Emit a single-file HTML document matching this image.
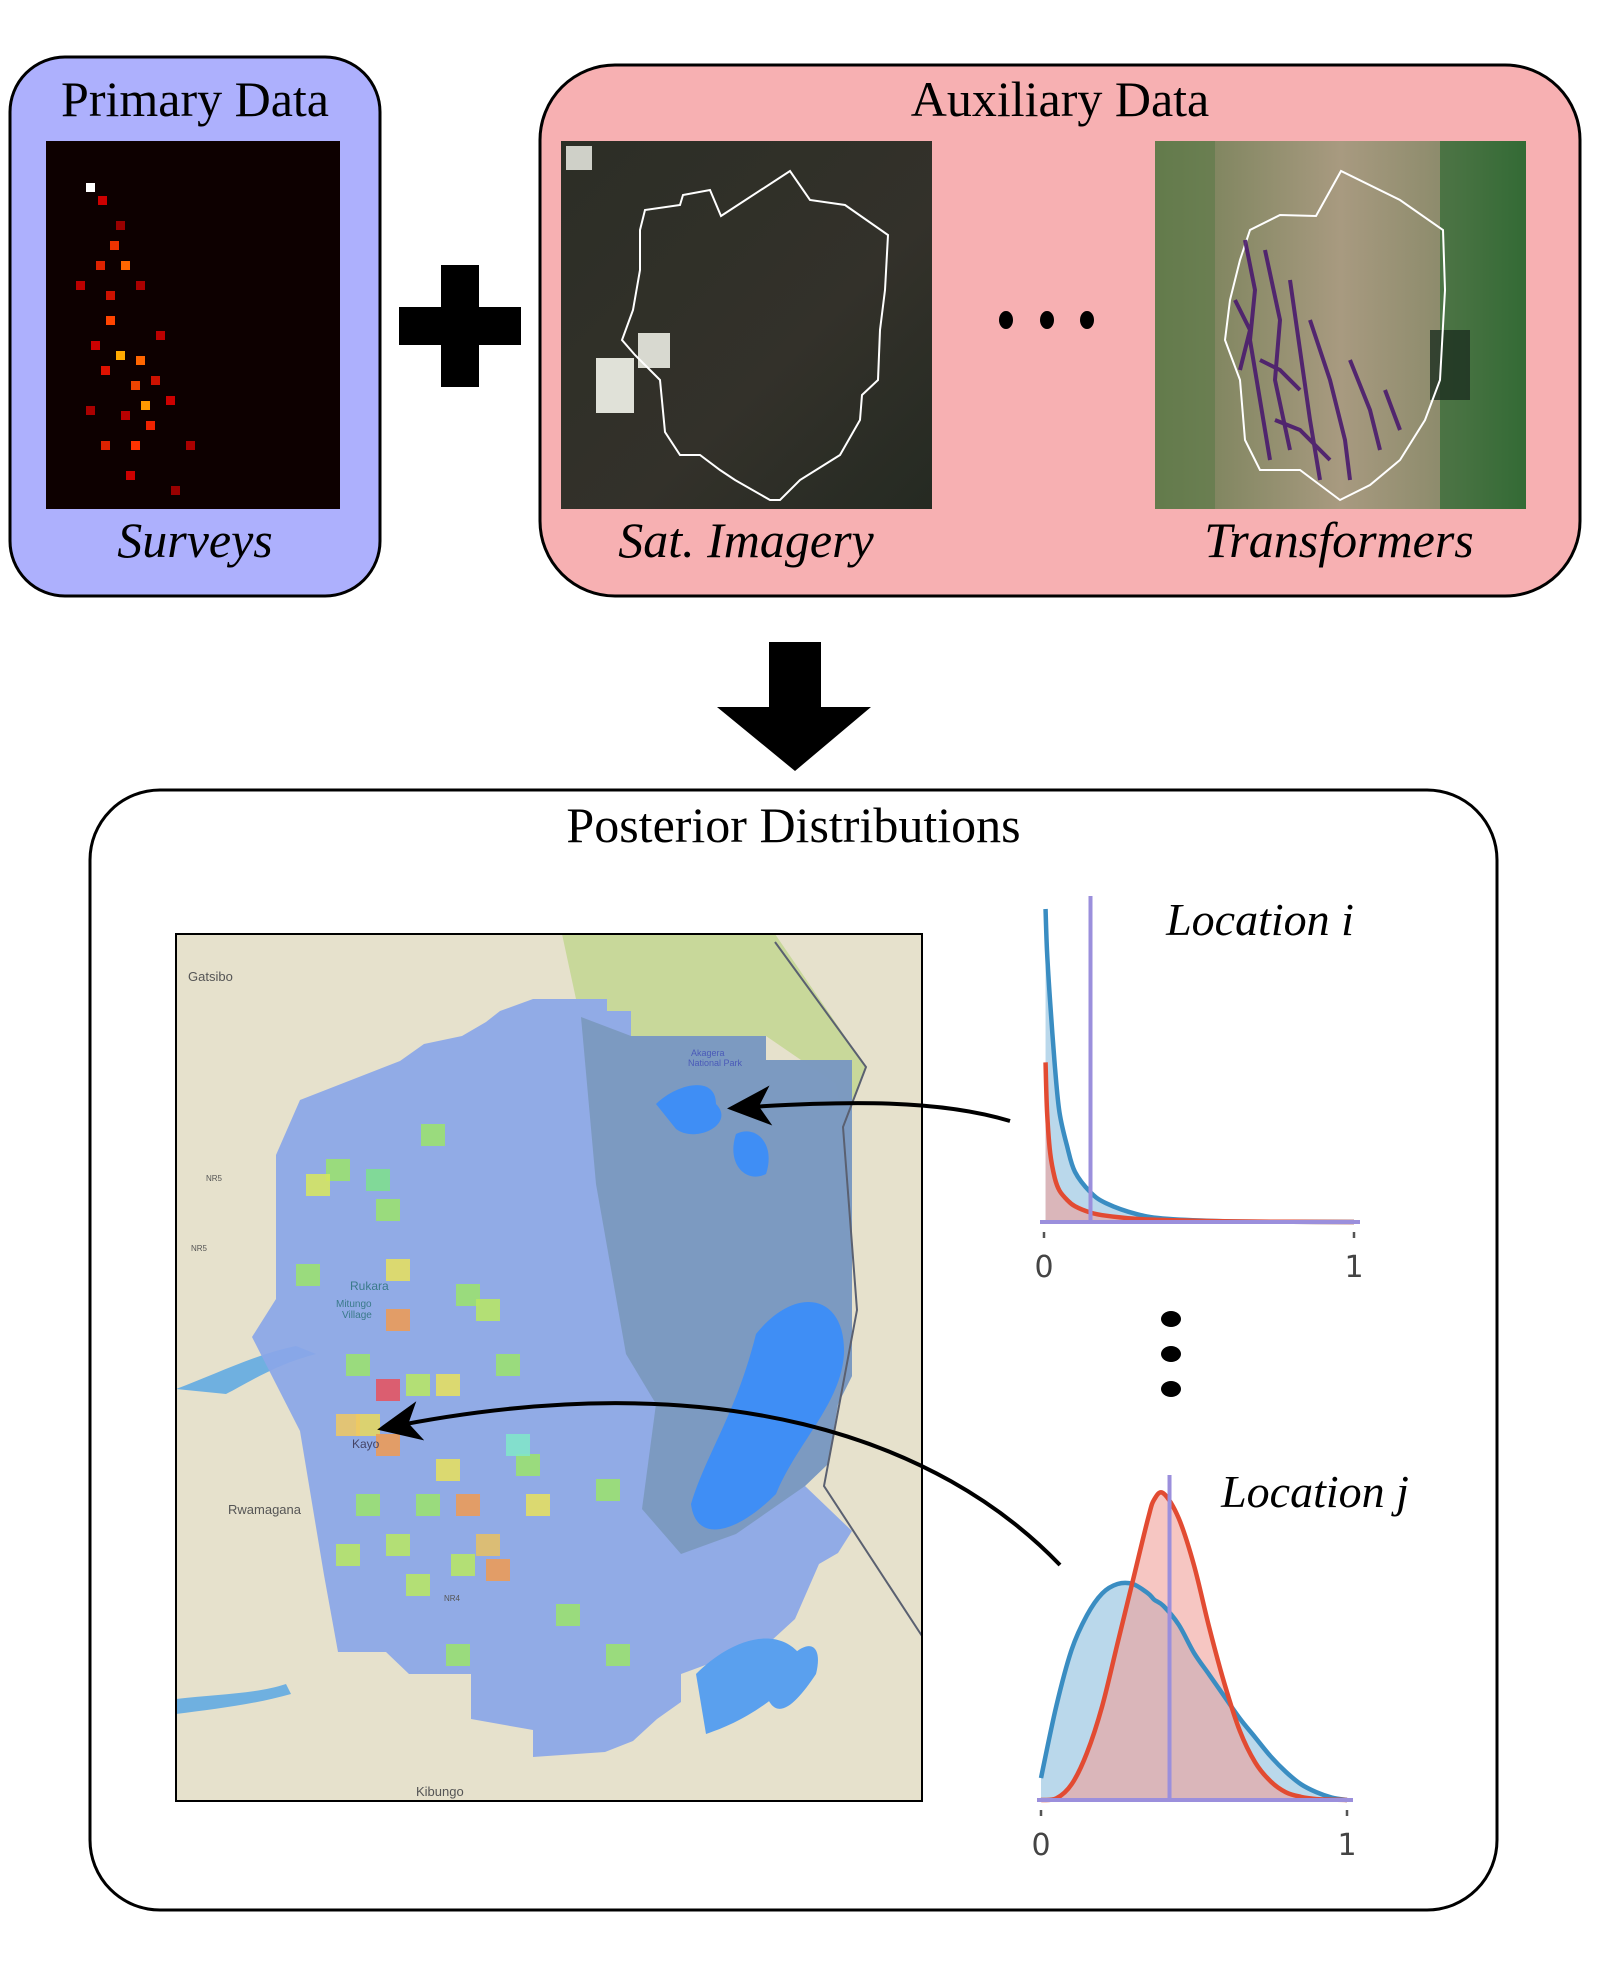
<!DOCTYPE html>
<html><head><meta charset="utf-8">
<style>
html,body{margin:0;padding:0;background:#fff;}
body{width:1600px;height:1976px;position:relative;overflow:hidden;font-family:"Liberation Serif",serif;}
.abs{position:absolute;}
.title{font-size:50px;color:#000;text-align:center;}
.ital{font-style:italic;font-size:50px;text-align:center;}
</style></head><body>
<svg width="1600" height="1976" viewBox="0 0 1600 1976" xmlns="http://www.w3.org/2000/svg" style="position:absolute;left:0;top:0">
<defs>
<linearGradient id="satg" x1="0" y1="0" x2="1" y2="1"><stop offset="0" stop-color="#2c2e26"/><stop offset="0.6" stop-color="#33312a"/><stop offset="1" stop-color="#252a22"/></linearGradient>
<linearGradient id="trg" x1="0" y1="0" x2="1" y2="0"><stop offset="0" stop-color="#6f7d52"/><stop offset="0.5" stop-color="#a89a80"/><stop offset="0.8" stop-color="#8a8a6a"/><stop offset="1" stop-color="#3e6e3a"/></linearGradient>
<marker id="ah" markerWidth="12" markerHeight="10" refX="9" refY="5" orient="auto" markerUnits="strokeWidth"><path d="M0,0 L11,5 L0,10 L3,5 z" fill="#000"/></marker>
</defs>
<rect x="10" y="57" width="370" height="539" rx="55" fill="#adb0fd" stroke="#000" stroke-width="3"/>
<rect x="46" y="141" width="294" height="368" fill="#0d0000"/>
<g id="survey-cells"></g>
<g fill="#000"><rect x="441" y="265" width="38" height="122"/><rect x="399" y="307" width="122" height="38"/></g>
<rect x="540" y="65" width="1040" height="531" rx="75" fill="#f7b0b2" stroke="#000" stroke-width="3"/>
<g>
<rect x="561" y="141" width="371" height="368" fill="url(#satg)"/>
<rect x="566" y="146" width="26" height="24" fill="#cfd0c8"/>
<rect x="638" y="333" width="32" height="35" fill="#d8d9d0"/>
<rect x="596" y="358" width="38" height="55" fill="#e0e1d8"/>
<polygon points="721,216 790,171 810,200 845,205 888,235 885,290 880,330 878,380 862,395 860,420 840,455 800,480 780,500 770,500 735,480 720,470 700,455 680,455 665,432 660,380 635,355 622,340 633,310 640,270 640,230 645,210 680,205 683,195 710,190" fill="none" stroke="#fff" stroke-width="2"/>
</g>
<g>
<rect x="1155" y="141" width="371" height="368" fill="url(#trg)"/>
<rect x="1155" y="141" width="60" height="368" fill="#5c7a48" opacity="0.6"/>
<rect x="1440" y="141" width="86" height="368" fill="#2f6a33" opacity="0.7"/>
<rect x="1430" y="330" width="40" height="70" fill="#1d3020" opacity="0.8"/>
<polygon points="1316,216 1341,171 1400,200 1443,230 1445,290 1440,380 1425,420 1400,460 1370,485 1340,500 1300,470 1260,470 1245,440 1240,380 1225,340 1230,300 1240,260 1250,230 1280,215" fill="none" stroke="#fff" stroke-width="2"/>
<g stroke="#4a1a6e" stroke-width="4" fill="none" opacity="0.9">
<path d="M1245,240 L1255,290 L1250,340 L1260,400 L1270,460"/><path d="M1265,250 L1280,320 L1275,380 L1290,450"/>
<path d="M1290,280 L1300,350 L1310,420 L1320,480"/><path d="M1235,300 L1250,330 L1240,370"/>
<path d="M1310,320 L1330,380 L1345,440 L1350,480"/><path d="M1350,360 L1370,410 L1380,450"/><path d="M1385,390 L1400,430"/>
<path d="M1260,360 L1280,370 L1300,390"/><path d="M1275,420 L1300,430 L1330,460"/>
</g>
</g>
<g fill="#000">
<ellipse cx="1006" cy="320" rx="7" ry="9"/><ellipse cx="1047" cy="320" rx="7" ry="9"/><ellipse cx="1087" cy="320" rx="7" ry="9"/></g>
<polygon points="769,642 821,642 821,707 871,707 795,771 717,707 769,707" fill="#000"/>
<rect x="90" y="790" width="1407" height="1120" rx="70" fill="#fff" stroke="#000" stroke-width="3"/>
<g transform="translate(176,934)">
<rect x="0" y="0" width="746" height="867" fill="#e6e1cc"/>
<polygon points="386,0 599,0 690,133 667,193 660,150 590,102 455,102 455,77 431,77 431,65 400,65" fill="#c8d89a"/>
<path d="M0,455 C40,440 80,420 120,412 L140,420 C100,430 70,450 50,460 Z" fill="#6fb0e0"/>
<path d="M0,765 C40,760 80,760 110,750 L115,760 C80,770 40,775 0,780 Z" fill="#6fb0e0"/>
<polygon id="bluepoly" points="357,65 431,65 431,77 455,77 455,102 590,102 590,126 676,126 676,442 662,470 652,530 629,552 676,597 662,619 643,630 619,685 595,707 505,740 505,768 481,785 457,807 429,818 357,823 357,796 295,785 295,740 233,740 210,718 162,718 148,641 124,497 76,403 100,365 100,221 124,166 224,127 248,110 286,102 310,88 324,77" fill="#8aa6e8" opacity="0.92"/>
<polygon points="405,83 455,102 590,102 590,126 676,126 676,442 662,470 652,530 629,552 560,600 505,620 466,575 480,470 450,420 420,250" fill="#7796b8" opacity="0.8"/>
<path d="M480,170 C500,150 540,140 540,170 C560,190 520,210 500,195 Z" fill="#3f8ef5"/>
<path d="M560,200 C580,190 600,210 590,240 C570,250 550,230 560,200 Z" fill="#3f8ef5"/>
<path d="M580,400 C620,350 670,360 668,420 C665,470 620,510 600,560 C560,600 520,610 515,570 C530,520 560,480 580,400 Z" fill="#3f8ef5"/>
<path d="M520,740 C560,700 610,690 630,730 C600,770 560,790 530,800 Z" fill="#5aa0ee"/>
<path d="M590,760 C620,700 650,700 640,740 C620,770 600,790 590,760 Z" fill="#5aa0ee"/>
<path d="M599,8 L690,133 L667,193 L681,376 L648,552 L746,702" fill="none" stroke="#5a6070" stroke-width="2"/>
<g id="map-cells"></g>
<g font-family="Liberation Sans, sans-serif" fill="#555" font-size="13">
<text x="12" y="47">Gatsibo</text>
<text x="52" y="580">Rwamagana</text>
<text x="240" y="862">Kibungo</text>
<text x="174" y="356" fill="#3a7a8a" font-size="12">Rukara</text>
<text x="160" y="373" fill="#3a7a8a" font-size="10">Mitungo</text>
<text x="166" y="384" fill="#3a7a8a" font-size="10">Village</text>
<text x="176" y="514" fill="#446" font-size="12">Kayo</text>
<text x="515" y="122" fill="#4a5ab8" font-size="9">Akagera</text>
<text x="512" y="132" fill="#4a5ab8" font-size="9">National Park</text>
<text x="30" y="247" font-size="8">NR5</text><text x="15" y="317" font-size="8">NR5</text><text x="268" y="667" font-size="8">NR4</text>
</g>
<rect x="0" y="0" width="746" height="867" fill="none" stroke="#000" stroke-width="2"/>
</g>
<path d="M1010,1121 C940,1100 850,1100 735,1108" fill="none" stroke="#000" stroke-width="4" marker-end="url(#ah)"/>
<path d="M1060,1565 C940,1440 720,1360 385,1428" fill="none" stroke="#000" stroke-width="4" marker-end="url(#ah)"/>
<g fill="#000">
<ellipse cx="1171" cy="1319" rx="10" ry="8"/><ellipse cx="1171" cy="1354" rx="10" ry="8"/><ellipse cx="1171" cy="1389" rx="10" ry="8"/></g>
<g id="plot-i"></g>
<g id="plot-j"></g>
</svg>
<div class="abs title" style="left:10px;width:370px;top:70px;">Primary Data</div>
<div class="abs ital" style="left:10px;width:370px;top:511px;">Surveys</div>
<div class="abs title" style="left:540px;width:1040px;top:70px;">Auxiliary Data</div>
<div class="abs ital" style="left:546px;width:400px;top:511px;">Sat. Imagery</div>
<div class="abs ital" style="left:1139px;width:400px;top:511px;">Transformers</div>
<div class="abs title" style="left:90px;width:1407px;top:796px;">Posterior Distributions</div>
<div class="abs ital" style="left:1160px;width:200px;top:893px;font-size:46px;">Location i</div>
<div class="abs ital" style="left:1215px;width:200px;top:1465px;font-size:46px;">Location j</div>
<script>
const xsI = [0.005,0.01,0.02,0.035,0.05,0.075,0.1,0.15,0.2,0.3,0.4,0.6,0.8,1];
const blueI = [10,8.6,7,5,3.5,2.4,1.6,0.95,0.6,0.25,0.1,0.02,0.005,0];
const redI = [5.1,3.5,2.2,1.4,1.0,0.7,0.5,0.3,0.2,0.1,0.06,0.02,0.005,0];
const markerI = 0.15;
const xsJ = [0,0.05,0.1,0.15,0.2,0.25,0.3,0.35,0.37,0.4,0.45,0.5,0.55,0.6,0.65,0.7,0.75,0.8,0.85,0.9,0.95,1];
const blueJ = [0.7,3,4.8,5.9,6.6,6.9,6.9,6.6,6.4,6.2,5.6,4.7,4.0,3.3,2.6,2.0,1.4,0.9,0.5,0.25,0.08,0];
const redJ = [0,0.05,0.5,1.5,3,5,7,9,9.6,9.8,9,7.5,5.5,3.7,2.2,1.2,0.6,0.25,0.1,0.03,0.01,0];
const markerJ = 0.42;
const tickLabels = ["0","1"];
const NS="http://www.w3.org/2000/svg";
function mk(tag,attrs,parent){const e=document.createElementNS(NS,tag);for(const k in attrs)e.setAttribute(k,attrs[k]);parent.appendChild(e);return e;}
function smooth(p){let d="M"+p[0][0]+","+p[0][1];for(let i=0;i<p.length-1;i++){const p0=p[i-1]||p[i],p1=p[i],p2=p[i+1],p3=p[i+2]||p2;
const c1=[p1[0]+(p2[0]-p0[0])/6,p1[1]+(p2[1]-p0[1])/6],c2=[p2[0]-(p3[0]-p1[0])/6,p2[1]-(p3[1]-p1[1])/6];
d+=" C"+c1[0].toFixed(1)+","+c1[1].toFixed(1)+" "+c2[0].toFixed(1)+","+c2[1].toFixed(1)+" "+p2[0].toFixed(1)+","+p2[1].toFixed(1);}return d;}
function drawPlot(g,x0,x1,yAxis,yTop,xs,blue,red,marker,lineTop){
  const sx=v=>x0+(x1-x0)*v, sy=v=>yAxis-(yAxis-yTop)*v/10;
  const P=arr=>xs.map((x,i)=>[sx(x),sy(arr[i])]);
  const close=" L"+sx(xs[xs.length-1])+","+yAxis+" L"+sx(xs[0])+","+yAxis+" Z";
  const bf=mk('path',{d:smooth(P(blue))+close,fill:'#9cc8e3',opacity:'0.7'},g);
  
  
  const rf=mk('path',{d:smooth(P(red))+close,fill:'#f0a09a',opacity:'0.6'},g);
  
  
  const bl=mk('path',{d:smooth(P(blue)),fill:'none',stroke:'#3a8dc2','stroke-width':'4.5'},g);
  
  
  const rl=mk('path',{d:smooth(P(red)),fill:'none',stroke:'#e24b32','stroke-width':'4.5'},g);
  
  
  const ax=mk('line',{x1:x0-4,x2:x1+6,y1:yAxis,y2:yAxis,stroke:'#9b8fdc','stroke-width':'4'},g);
  
  
  const ml=mk('line',{x1:sx(marker),x2:sx(marker),y1:lineTop,y2:yAxis,stroke:'#9b8fdc','stroke-width':'4'},g);
  
  
  [0,1].forEach(v=>{
    const t=mk('line',{x1:sx(v),x2:sx(v),y1:yAxis+10,y2:yAxis+16,stroke:'#555','stroke-width':'2.5'},g);
    
    
    const tx=mk('text',{x:sx(v),y:yAxis+55,'text-anchor':'middle','font-family':'DejaVu Sans, sans-serif','font-size':'30',fill:'#444'},g);
    tx.textContent=tickLabels[v];
    
    
  });
}
drawPlot(document.getElementById('plot-i'),1044,1354,1222,909,xsI,blueI,redI,markerI,896);
drawPlot(document.getElementById('plot-j'),1041,1347,1800,1487,xsJ,blueJ,redJ,markerJ,1475);
const survey=[[40,42,'#fff'],[52,55,'#c00'],[70,80,'#900'],[64,100,'#e30'],[50,120,'#d20'],[75,120,'#f60'],[30,140,'#b00'],[60,150,'#c10'],[90,140,'#a00'],[60,175,'#f40'],[45,200,'#c00'],[70,210,'#fa0'],[55,225,'#d10'],[85,240,'#e40'],[95,260,'#f90'],[40,265,'#a00'],[75,270,'#b00'],[100,280,'#e20'],[120,255,'#c00'],[55,300,'#d20'],[85,300,'#f30'],[140,300,'#a00'],[80,330,'#c00'],[125,345,'#900'],[110,190,'#b00'],[90,215,'#f60'],[105,235,'#c10']];
const sg=document.getElementById('survey-cells');
survey.forEach(c=>{const r=mk('rect',{x:46+c[0],y:141+c[1],width:9,height:9,fill:c[2]},sg);

});
const heat=[[150,225,'#9be36a'],[130,240,'#d8e85a'],[190,235,'#7ee08a'],[200,265,'#9be36a'],[210,325,'#e8e05a'],[280,350,'#9be36a'],[300,365,'#b8e860'],[210,375,'#f09a50'],[200,445,'#e8505a'],[180,480,'#e8d85a'],[160,480,'#f0c860'],[200,500,'#f09a50'],[170,420,'#9be36a'],[230,440,'#b8e860'],[260,525,'#e8e05a'],[280,560,'#f09a50'],[240,560,'#9be36a'],[300,600,'#e8c060'],[310,625,'#f09a50'],[340,520,'#9be36a'],[350,560,'#e8e05a'],[275,620,'#b8e860'],[380,670,'#9be36a'],[420,545,'#9be36a'],[430,710,'#9be36a'],[270,710,'#9be36a'],[330,500,'#80e8c8'],[210,600,'#b8e860'],[230,640,'#b8e860'],[180,560,'#9be36a'],[260,440,'#e8e05a'],[320,420,'#9be36a'],[160,610,'#b8e860'],[245,190,'#9be36a'],[120,330,'#9be36a']];
const mg=document.getElementById('map-cells');
heat.forEach(c=>{const r=mk('rect',{x:c[0],y:c[1],width:24,height:22,fill:c[2],opacity:'0.85'},mg);

});
</script>
</body></html>
